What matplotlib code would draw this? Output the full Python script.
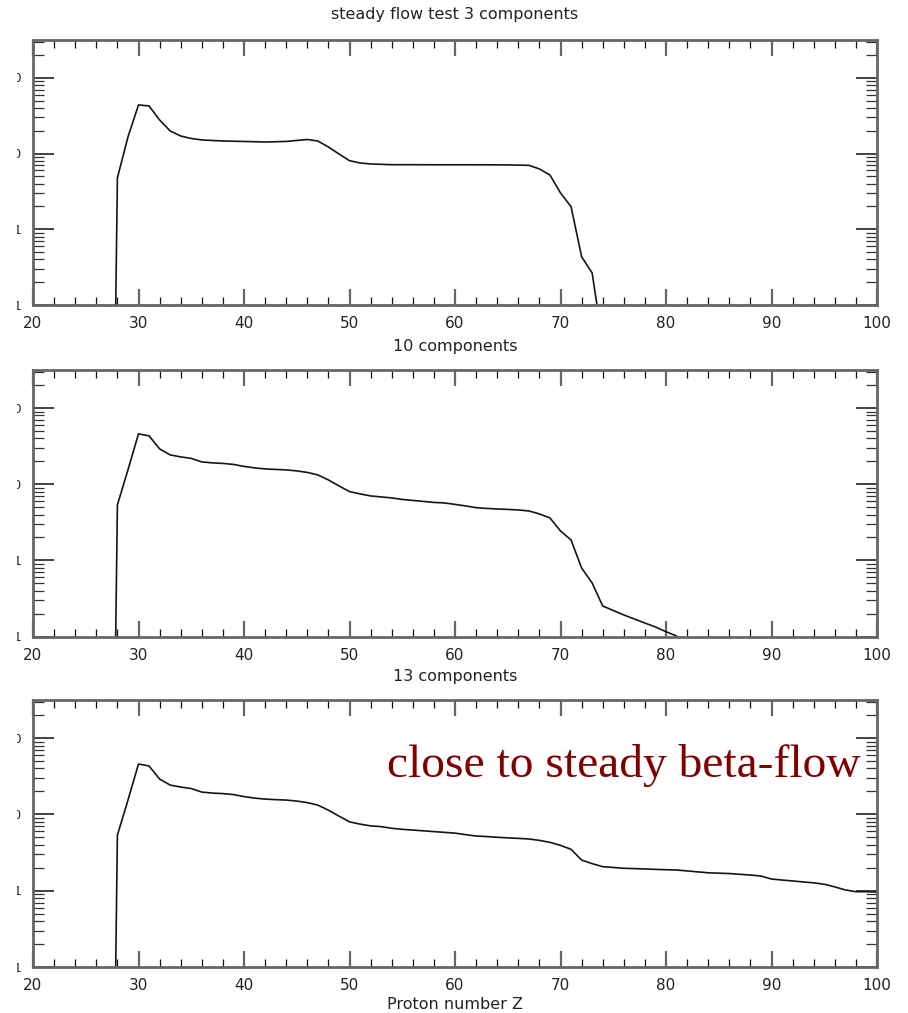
import numpy as np
import matplotlib
matplotlib.use("Agg")
import matplotlib.pyplot as plt
from matplotlib.ticker import FixedLocator, MultipleLocator, LogLocator, NullFormatter
from matplotlib.patches import Rectangle

# ---- data: proton number Z and log10 abundance for the three runs ----
z_3 = [27, 28, 29, 30, 31, 32, 33, 34, 35, 36, 38, 40, 42, 44, 45, 46, 47, 48, 49,
       50, 51, 52, 54, 56, 58, 60, 62, 64, 65, 67, 68, 69, 70, 71, 72, 73, 74]
logy_3 = [-10.0, 0.678, 1.219, 1.642, 1.629, 1.444, 1.299, 1.232, 1.199, 1.180, 1.166,
          1.160, 1.153, 1.160, 1.173, 1.186, 1.166, 1.087, 0.995, 0.906, 0.876, 0.863,
          0.853, 0.853, 0.852, 0.852, 0.852, 0.851, 0.850, 0.845, 0.797, 0.717, 0.480,
          0.299, -0.362, -0.577, -1.50]

z_10 = [27, 28, 29, 30, 31, 32, 33, 34, 35, 36, 37, 38, 39, 40, 41, 42, 43, 44, 45, 46,
        47, 48, 49, 50, 51, 52, 53, 54, 55, 56, 57, 58, 59, 60, 61, 62, 63, 64, 65, 66,
        67, 68, 69, 70, 71, 72, 73, 74, 75, 76, 77, 78, 79, 80, 81, 82]
logy_10 = [-10.0, 0.728, 1.188, 1.661, 1.635, 1.464, 1.385, 1.359, 1.339, 1.293, 1.280,
           1.273, 1.260, 1.234, 1.214, 1.201, 1.194, 1.188, 1.175, 1.155, 1.122, 1.056,
           0.978, 0.903, 0.873, 0.846, 0.833, 0.820, 0.800, 0.787, 0.774, 0.761, 0.754,
           0.735, 0.715, 0.692, 0.682, 0.675, 0.669, 0.662, 0.649, 0.610, 0.557, 0.386,
           0.268, -0.100, -0.297, -0.599, -0.658, -0.717, -0.770, -0.823, -0.875, -0.937,
           -0.993, -1.60]

z_13 = [27, 28, 29, 30, 31, 32, 33, 34, 35, 36, 37, 38, 39, 40, 41, 42, 43, 44, 45, 46,
        47, 48, 49, 50, 51, 52, 53, 54, 55, 56, 57, 58, 59, 60, 61, 62, 63, 64, 65, 66,
        67, 68, 69, 70, 71, 72, 73, 74, 75, 76, 77, 78, 79, 80, 81, 82, 83, 84, 85, 86,
        87, 88, 89, 90, 91, 92, 93, 94, 95, 96, 97, 98, 99, 100]
logy_13 = [-10.0, 0.728, 1.188, 1.661, 1.635, 1.464, 1.385, 1.359, 1.339, 1.293, 1.280,
           1.273, 1.260, 1.234, 1.214, 1.201, 1.194, 1.188, 1.175, 1.155, 1.122, 1.056,
           0.978, 0.903, 0.873, 0.850, 0.840, 0.818, 0.805, 0.795, 0.785, 0.775, 0.765,
           0.755, 0.735, 0.717, 0.710, 0.700, 0.693, 0.686, 0.678, 0.660, 0.634, 0.594,
           0.543, 0.402, 0.355, 0.315, 0.305, 0.294, 0.290, 0.285, 0.280, 0.275, 0.271,
           0.260, 0.247, 0.235, 0.230, 0.225, 0.215, 0.205, 0.193, 0.153, 0.140, 0.128,
           0.115, 0.103, 0.085, 0.050, 0.010, -0.013, -0.013, -0.017]

panel_titles = ["steady flow test 3 components", "10 components", "13 components"]
xlabel = "Proton number Z"
note = "close to steady beta-flow"
ytick_vals = [0.1, 1, 10, 100]
ytick_text = ["0.1", "1", "10", "100"]
xtick_vals = [20, 30, 40, 50, 60, 70, 80, 90, 100]

W, H = 908, 1013
FRAME = "#666666"
LINE = "#151515"

fig = plt.figure(figsize=(W / 100, H / 100), dpi=100)
plt.rcParams["font.family"] = ["DejaVu Sans"]


def px_axes(left, top, right, bottom):
    return fig.add_axes([left / W, 1 - bottom / H, (right - left) / W, (bottom - top) / H])


# panel frames in pixel coordinates (left, top, right, bottom)
boxes = [(33, 40, 877, 305), (33, 370, 877, 636.5), (33, 700, 877, 967)]
series = [(z_3, logy_3), (z_10, logy_10), (z_13, logy_13)]
title_y = [15, 347, 677]

axes = []
for (box, (zz, ly), ty, title) in zip(boxes, series, title_y, panel_titles):
    ax = px_axes(*box)
    ax.plot(zz, 10 ** np.array(ly), color=LINE, lw=1.2, solid_joinstyle="round")
    ax.set_yscale("log")
    ax.set_xlim(20, 100)
    ax.set_ylim(0.1, 10 ** 2.5)

    ax.xaxis.set_major_locator(FixedLocator(xtick_vals))
    ax.xaxis.set_minor_locator(MultipleLocator(2))
    ax.yaxis.set_major_locator(FixedLocator(ytick_vals))
    ax.set_yticklabels(ytick_text)
    ax.yaxis.set_minor_locator(LogLocator(base=10, subs=np.arange(2, 10)))
    ax.yaxis.set_minor_formatter(NullFormatter())

    ax.tick_params(axis="both", which="both", direction="in", top=True, right=True,
                   labelcolor="#222222")
    ax.tick_params(axis="x", which="major", length=11.5, width=1.6, color=FRAME, pad=8,
                   labelsize=11)
    ax.tick_params(axis="x", which="minor", length=5.5, width=0.9, color="#111111")
    ax.tick_params(axis="y", which="major", length=15, width=1.3, color="#333333", pad=8,
                   labelsize=9.5, labelfontfamily="Liberation Sans")
    ax.tick_params(axis="y", which="minor", length=8, width=0.9, color="#333333")

    for sp in ax.spines.values():
        sp.set_color(FRAME)
        sp.set_linewidth(2.0)

    fig.text(455 / W, 1 - ty / H, title, ha="center", va="center",
             fontsize=11.5, color="#222222")
    axes.append(ax)

fig.text(455 / W, 1 - 1004 / H, xlabel, ha="center", va="center",
         fontsize=11.5, color="#222222")

fig.text(387 / W, 1 - 777 / H, note, ha="left", va="baseline",
         fontsize=34.2, color="#800000", family=["Liberation Serif", "DejaVu Serif"])

# the y tick labels are cut off at the left edge in the original image
fig.add_artist(Rectangle((0, 0), 17 / W, 1, transform=fig.transFigure,
                         facecolor="white", edgecolor="none", zorder=10))

fig.savefig("out.png", dpi=100)
